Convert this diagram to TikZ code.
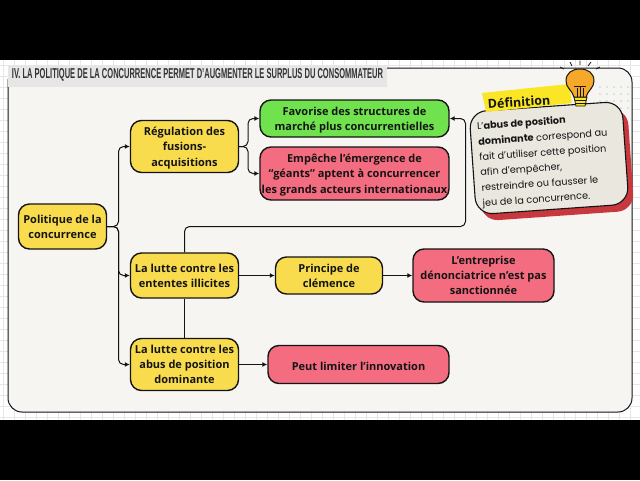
\documentclass[tikz,border=0pt]{standalone}
\usepackage{fontspec}
\setmainfont{Open Sans}
\newfontfamily\titlefont{Liberation Sans}
\newfontfamily\cardfont{Poppins}
\usetikzlibrary{arrows.meta}
\definecolor{ybox}{HTML}{F9DC4E}
\definecolor{rbox}{HTML}{F46C7F}
\definecolor{gbox}{HTML}{6FE24E}
\definecolor{panelbg}{HTML}{F6F5F2}
\definecolor{gridc}{HTML}{E6E6E6}
\definecolor{cardbg}{HTML}{E9E7DE}
\definecolor{cardred}{HTML}{C8383C}
\definecolor{tape}{HTML}{FBE625}
\definecolor{bulb}{HTML}{F5A82A}
\definecolor{ink}{HTML}{141414}
\tikzset{
  boxn/.style={draw=ink,line width=1.4pt,rounded corners=11pt,align=center,inner sep=0pt,text=ink,
    font=\fontsize{11}{15.3}\selectfont\bfseries,
    execute at begin node={\rule{0pt}{13pt}},
    text depth=-0.5pt},
  ybn/.style={boxn,fill=ybox},
  rbn/.style={boxn,fill=rbox},
  gbn/.style={boxn,fill=gbox},
  conn/.style={draw=ink,line width=1pt,rounded corners=5pt},
  arr/.style={conn,-{Latex[length=5pt,width=5pt]}},
  gridl/.style={draw=gridc,line width=0.6pt}
}
\begin{document}
\begin{tikzpicture}[x=1pt,y=-1pt]
\useasboundingbox (0,0) rectangle (640,480);
\fill[white] (0,0) rectangle (640,480);
\foreach \gx in {3,14,...,640} \draw[gridl] (\gx,60) -- (\gx,420);
\foreach \gy in {65,76,...,420} \draw[gridl] (0,\gy) -- (640,\gy);
\fill[black] (0,0) rectangle (640,60);
\fill[black] (0,420) rectangle (640,480);
\draw[draw=ink,fill=panelbg,line width=1pt,rounded corners=14pt] (8,68) rectangle (632,412);
\fill[gridc] (8,66) rectangle (387,87);
\node[anchor=center,inner sep=0pt,text=black!80] (title) at (197.5,75) {\resizebox{371pt}{10pt}{\titlefont\bfseries IV. LA POLITIQUE DE LA CONCURRENCE PERMET D’AUGMENTER LE SURPLUS DU CONSOMMATEUR}};
% dots
\foreach \dx in {600,607,...,630} \foreach \dy in {87,94,...,108}
  \fill[teal!60] (\dx,\dy) circle (0.6);
% nodes
\node[ybn,minimum width=88pt,minimum height=45pt] (pol) at (62.5,226.5) {Politique de la\\concurrence};
\node[ybn,minimum width=108pt,minimum height=52pt] (reg) at (184.5,146.5) {Régulation des\\fusions-\\acquisitions};
\node[ybn,minimum width=108pt,minimum height=45pt] (ent) at (184.5,275.5) {La lutte contre les\\ententes illicites};
\node[ybn,minimum width=108pt,minimum height=52pt] (abu) at (184.5,364.5) {La lutte contre les\\abus de position\\dominante};
\node[gbn,minimum width=189pt,minimum height=37pt] (fav) at (354.5,118.5) {Favorise des structures de\\marché plus concurrentielles};
\node[rbn,minimum width=189pt,minimum height=53pt] (emp) at (354.5,173.5) {Empêche l’émergence de\\“géants” aptent à concurrencer\\les grands acteurs internationaux};
\node[ybn,minimum width=107pt,minimum height=37pt] (pri) at (329,275.5) {Principe de\\clémence};
\node[rbn,minimum width=141pt,minimum height=53pt] (den) at (483.5,275.5) {L’entreprise\\dénonciatrice n’est pas\\sanctionnée};
\node[rbn,text depth=2pt,minimum width=181pt,minimum height=38pt] (peu) at (358.5,364.5) {Peut limiter l’innovation};
% connectors
\coordinate (bp) at (118.5,226.5);
\coordinate (br) at (248,146.5);
\coordinate (ca) at (184.5,226.5);
\coordinate (cb) at (465.5,226.5);
\coordinate (cc) at (465.5,118.5);
\draw[arr] (pol.east) -- (bp) |- (reg.west);
\draw[arr] (pol.east) -- (bp) |- (ent.west);
\draw[arr] (pol.east) -- (bp) |- (abu.west);
\draw[arr] (reg.east) -- (br) |- (fav.west);
\draw[arr] (reg.east) -- (br) |- (emp.west);
\draw[arr] (ent.north) -- (ca) -- (cb) -- (cc) -- (fav.east);
\draw[conn] (ent.south) -- (abu.north);
\draw[arr] (ent.east) -- (pri.west);
\draw[arr] (pri.east) -- (den.west);
\draw[arr] (abu.east) -- (peu.west);
% definition card
\node[rotate=4,fill=cardred,rounded corners=17pt,minimum width=153pt,minimum height=103pt] (shadow) at (554.5,164.5) {};
\node[rotate=4,fill=cardbg,draw=ink,line width=1.1pt,rounded corners=17pt,minimum width=153pt,minimum height=103pt] (card) at (549,158) {};
\fill[tape] (482,93) -- (569,84) -- (572,103) -- (486,112) -- cycle;
\node[rotate=4,inner sep=0pt,text=ink,font=\fontsize{12.5}{14}\selectfont\bfseries] (def) at (519,102) {Définition};
\node[rotate=4,inner sep=0pt,text=ink,align=left,anchor=center,font=\cardfont\fontsize{9.7}{15.4}\selectfont] (cardtext) at (544.5,161)
 {L’\textbf{abus de position}\\\textbf{dominante} correspond au\\fait d’utiliser cette position\\afin d’empêcher,\\restreindre ou fausser le\\jeu de la concurrence.};
% bulb
\draw[ink,fill=tape,line width=0.8pt] (574,97) -- (587,97) -- (585,106) -- (576,106) -- cycle;
\draw[ink,line width=0.8pt] (575,100) -- (586,100) (575.5,103) -- (585.5,103);
\draw[ink,fill=bulb,line width=1pt] (574,97) .. controls (572,90) and (566,88) .. (566,81) .. controls (566,73) and (572,69) .. (580,69) .. controls (588,69) and (594,73) .. (594,81) .. controls (594,88) and (588,90) .. (586,97) -- cycle;
\draw[ink,line width=0.9pt] (577,97) -- (577,88) (580,97) -- (580,86) (583,97) -- (583,88) (574,86) -- (586,86);
\draw[ink,line width=0.8pt] (572,66) -- (570,62) (580,65) -- (580,60.5) (588,66) -- (591,62) (564,69) -- (560,67) (596,69) -- (600,67);
\end{tikzpicture}
\end{document}
